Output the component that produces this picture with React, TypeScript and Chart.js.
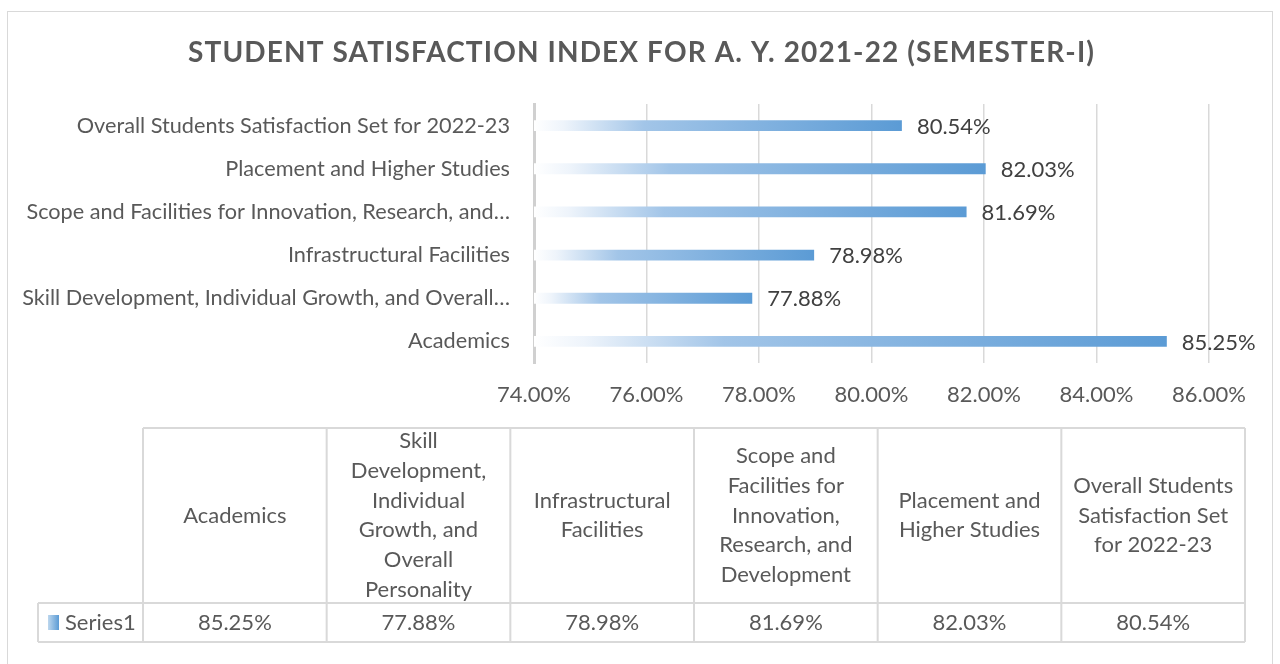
import React, { useEffect, useRef } from 'react';
import { Chart, registerables } from 'chart.js';

Chart.register(...registerables);

const chartTitle = 'STUDENT SATISFACTION INDEX FOR A. Y. 2021-22 (SEMESTER-I)';
const categories = [
  'Academics',
  'Skill Development, Individual Growth, and Overall Personality',
  'Infrastructural Facilities',
  'Scope and Facilities for Innovation, Research, and Development',
  'Placement and Higher Studies',
  'Overall Students Satisfaction Set for 2022-23',
];
const axisLabels = [
  'Academics',
  'Skill Development, Individual Growth, and Overall…',
  'Infrastructural Facilities',
  'Scope and Facilities for Innovation, Research, and…',
  'Placement and Higher Studies',
  'Overall Students Satisfaction Set for 2022-23',
];
const seriesName = 'Series1';
const values = [85.25, 77.88, 78.98, 81.69, 82.03, 80.54];
const xMin = 74;
const xMax = 86;
const xStep = 2;

const FONT = 'Lato';
const fmt = (v: number) => v.toFixed(2) + '%';

function wrapText(ctx: CanvasRenderingContext2D, text: string, maxW: number): string[] {
  const words = text.split(' ');
  const lines: string[] = [];
  let cur = '';
  for (const w of words) {
    const t = cur ? cur + ' ' + w : w;
    if (!cur || ctx.measureText(t).width <= maxW) cur = t;
    else {
      lines.push(cur);
      cur = w;
    }
  }
  if (cur) lines.push(cur);
  return lines;
}

const decorPlugin = {
  id: 'decor',
  afterDraw(chart: any) {
    const ctx: CanvasRenderingContext2D = chart.ctx;
    ctx.save();

    // outer frame
    ctx.strokeStyle = '#D9D9D9';
    ctx.lineWidth = 1;
    ctx.strokeRect(7.5, 11.5, 1265, 720);

    // title with letter spacing fitted to width
    ctx.font = `bold 28px ${FONT}`;
    ctx.fillStyle = '#595959';
    ctx.textAlign = 'left';
    ctx.textBaseline = 'alphabetic';
    (ctx as any).letterSpacing = '0px';
    const w0 = ctx.measureText(chartTitle).width;
    const targetW = 906;
    const ls = (targetW - w0) / (chartTitle.length - 1);
    (ctx as any).letterSpacing = ls + 'px';
    ctx.fillText(chartTitle, 641 - targetW / 2, 62);
    (ctx as any).letterSpacing = '0px';

    // data labels
    const meta = chart.getDatasetMeta(0);
    ctx.font = `22px ${FONT}`;
    ctx.fillStyle = '#404040';
    ctx.textBaseline = 'middle';
    meta.data.forEach((bar: any, i: number) => {
      ctx.fillText(fmt(values[i]), bar.x + 15, bar.y + 1);
    });

    // data table
    const tLeft = 143;
    const tRight = 1245;
    const sLeft = 38;
    const hTop = 428;
    const hBot = 603;
    const rBot = 642;
    const n = categories.length;
    const colW = (tRight - tLeft) / n;
    ctx.strokeStyle = '#D9D9D9';
    ctx.lineWidth = 2;
    ctx.beginPath();
    ctx.moveTo(tLeft, hTop);
    ctx.lineTo(tRight, hTop);
    ctx.moveTo(sLeft, hBot);
    ctx.lineTo(tRight, hBot);
    ctx.moveTo(sLeft, rBot);
    ctx.lineTo(tRight, rBot);
    ctx.moveTo(sLeft, hBot);
    ctx.lineTo(sLeft, rBot);
    for (let i = 0; i <= n; i++) {
      const x = tLeft + colW * i;
      ctx.moveTo(x, hTop);
      ctx.lineTo(x, rBot);
    }
    ctx.stroke();

    ctx.font = `22px ${FONT}`;
    ctx.fillStyle = '#595959';
    ctx.textAlign = 'center';
    ctx.textBaseline = 'middle';
    const lh = 29.8;
    categories.forEach((c, i) => {
      const cx = tLeft + colW * (i + 0.5);
      const lines = wrapText(ctx, c, 168);
      const startY = (hTop + hBot) / 2 - ((lines.length - 1) * lh) / 2;
      lines.forEach((ln, k) => ctx.fillText(ln, cx, startY + k * lh));
      ctx.fillText(fmt(values[i]), cx, (hBot + rBot) / 2);
    });

    // series key + name
    const kg = ctx.createLinearGradient(48, 0, 59, 0);
    kg.addColorStop(0, '#BDD7EE');
    kg.addColorStop(1, '#5B9BD5');
    ctx.fillStyle = kg;
    ctx.fillRect(48, 615, 11, 15);
    ctx.fillStyle = '#595959';
    ctx.textAlign = 'left';
    ctx.fillText(seriesName, 65, (hBot + rBot) / 2);

    ctx.restore();
  },
};

export default function App() {
  const ref = useRef<HTMLCanvasElement | null>(null);
  useEffect(() => {
    if (!ref.current) return;
    const chart = new Chart(ref.current, {
      type: 'bar',
      data: {
        labels: categories,
        datasets: [
          {
            label: seriesName,
            data: values,
            barPercentage: 0.25,
            categoryPercentage: 1,
            borderWidth: 0,
            backgroundColor: (c: any) => {
              const ch = c.chart;
              const xs = ch.scales && ch.scales.x;
              if (!xs || c.type !== 'data') return '#5B9BD5';
              const x0 = xs.getPixelForValue(xMin);
              const x1 = xs.getPixelForValue(values[c.dataIndex]);
              if (!isFinite(x0) || !isFinite(x1) || x1 <= x0) return '#5B9BD5';
              const g = ch.ctx.createLinearGradient(x0, 0, x1, 0);
              g.addColorStop(0, '#FFFFFF');
              g.addColorStop(0.08, '#EEF4FB');
              g.addColorStop(0.3, '#A2C5E8');
              g.addColorStop(1, '#5B9BD5');
              return g;
            },
          },
        ],
      },
      options: {
        indexAxis: 'y',
        responsive: false,
        animation: false,
        events: [],
        layout: { padding: { top: 104, right: 71, bottom: 0, left: 0 } },
        plugins: {
          legend: { display: false },
          title: { display: false },
          tooltip: { enabled: false },
        },
        scales: {
          x: {
            type: 'linear',
            min: xMin,
            max: xMax,
            ticks: {
              stepSize: xStep,
              callback: (v: any) => fmt(Number(v)),
              color: '#595959',
              font: { family: FONT, size: 22 },
              padding: 19,
              maxRotation: 0,
            },
            grid: { color: '#D9D9D9', lineWidth: 1.5, drawTicks: false },
            border: { display: false },
            afterFit: (s: any) => {
              s.height = 301;
            },
          },
          y: {
            type: 'category',
            reverse: true,
            ticks: {
              color: '#595959',
              font: { family: FONT, size: 21.7 },
              padding: 24,
              autoSkip: false,
              callback: (v: any) => axisLabels[Number(v)],
            },
            grid: { display: false, drawTicks: false },
            border: { display: true, color: '#D0D0D0', width: 3 },
            afterFit: (s: any) => {
              s.width = 534;
            },
          },
        },
      },
      plugins: [decorPlugin],
    } as any);
    return () => chart.destroy();
  }, []);
  return (
    <canvas
      ref={ref}
      width={1280}
      height={664}
      style={{ position: 'fixed', left: 0, top: 0, width: 1280, height: 664, background: '#FFFFFF' }}
    />
  );
}
